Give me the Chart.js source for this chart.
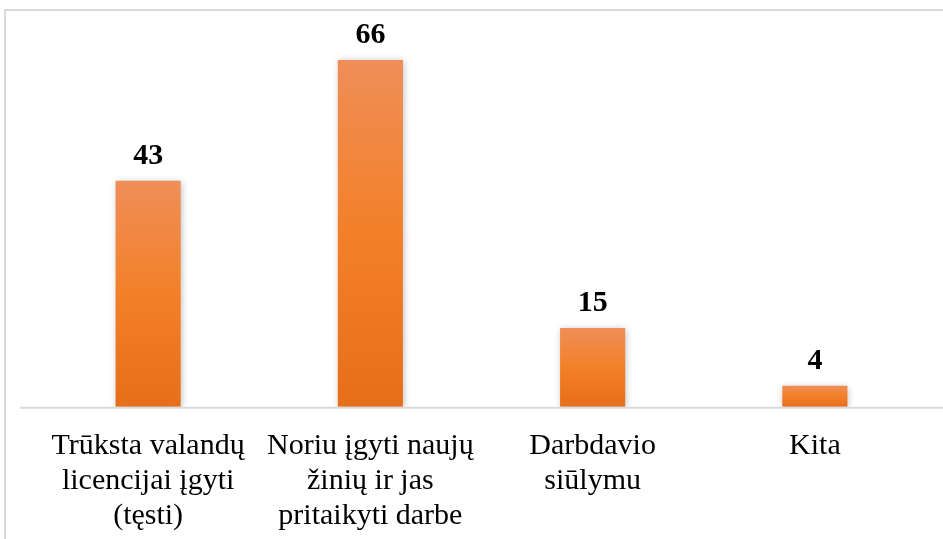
<!DOCTYPE html>
<html>
<head>
<meta charset="utf-8">
<script src="https://cdn.jsdelivr.net/npm/chart.js@4/dist/chart.umd.min.js"></script>
<style>
  html, body { margin: 0; padding: 0; background: #fff; overflow: hidden; }
  #frame {
    position: absolute; left: 4px; top: 9px; width: 960px; height: 560px;
    border-top: 2px solid #d9d9d9; border-left: 2px solid #d9d9d9;
  }
  #wrap { position: absolute; left: 0; top: 0; width: 943px; height: 539px; }
</style>
</head>
<body>
<div id="frame"></div>
<div id="wrap"><canvas id="chart" width="943" height="539"></canvas></div>
<script>
const categories = [
    ["Trūksta valandų", "licencijai įgyti", "(tęsti)"],
    ["Noriu įgyti naujų", "žinių ir jas", "pritaikyti darbe"],
    ["Darbdavio", "siūlymu"],
    ["Kita"],
];
const values = [43, 66, 15, 4];

const FONT = "'Liberation Serif', 'Times New Roman', serif";

// gradient for each bar, from its top down to the baseline
const barGradient = (context) => {
    const chart = context.chart;
    if (!chart.chartArea || !chart.scales.y) return "#f28030";
    const yScale = chart.scales.y;
    const top = yScale.getPixelForValue(context.raw);
    const bottom = yScale.getPixelForValue(0);
    const g = chart.ctx.createLinearGradient(0, top, 0, bottom);
    g.addColorStop(0, "rgb(239, 142, 88)");
    g.addColorStop(0.5, "rgb(243, 128, 40)");
    g.addColorStop(1, "rgb(231, 110, 26)");
    return g;
};

const barShadow = {
    id: "barShadow",
    beforeDatasetDraw(chart) {
        const ctx = chart.ctx;
        ctx.save();
        ctx.shadowColor = "rgba(0, 0, 0, 0.28)";
        ctx.shadowBlur = 7;
        ctx.shadowOffsetX = 1;
        ctx.shadowOffsetY = 1;
    },
    afterDatasetDraw(chart) {
        chart.ctx.restore();
    },
};

// baseline wider than the plot area, like the original
const baseline = {
    id: "baseline",
    beforeDatasetsDraw(chart) {
        const ctx = chart.ctx;
        const y = chart.scales.y.getPixelForValue(0);
        ctx.save();
        ctx.strokeStyle = "#d9d9d9";
        ctx.lineWidth = 2;
        ctx.beginPath();
        ctx.moveTo(20, y + 1);
        ctx.lineTo(chart.width, y + 1);
        ctx.stroke();
        ctx.restore();
    },
};

const valueLabels = {
    id: "valueLabels",
    afterDatasetsDraw(chart) {
        const ctx = chart.ctx;
        const meta = chart.getDatasetMeta(0);
        ctx.save();
        ctx.font = "bold 30px " + FONT;
        ctx.fillStyle = "#000";
        ctx.textAlign = "center";
        ctx.textBaseline = "alphabetic";
        meta.data.forEach((bar, i) => {
            ctx.fillText(String(values[i]), bar.x, bar.y - 17);
        });
        ctx.restore();
    },
};

new Chart(document.getElementById("chart"), {
    type: "bar",
    data: {
        labels: categories,
        datasets: [
            {
                data: values,
                backgroundColor: barGradient,
                borderWidth: 0,
                barPercentage: 0.58,
                categoryPercentage: 0.505,
            },
        ],
    },
    options: {
        responsive: false,
        animation: false,
        layout: {
            padding: { top: 39, left: 37, right: 17, bottom: -17 },
        },
        plugins: {
            legend: { display: false },
            tooltip: { enabled: false },
        },
        scales: {
            y: {
                display: false,
                min: 0,
                max: 70,
            },
            x: {
                grid: { display: false, drawTicks: false },
                border: { display: false },
                ticks: {
                    color: "#000",
                    padding: 22,
                    maxRotation: 0,
                    autoSkip: false,
                    font: { family: FONT, size: 30, lineHeight: 1.17 },
                },
            },
        },
    },
    plugins: [barShadow, baseline, valueLabels],
});
</script>
</body>
</html>
